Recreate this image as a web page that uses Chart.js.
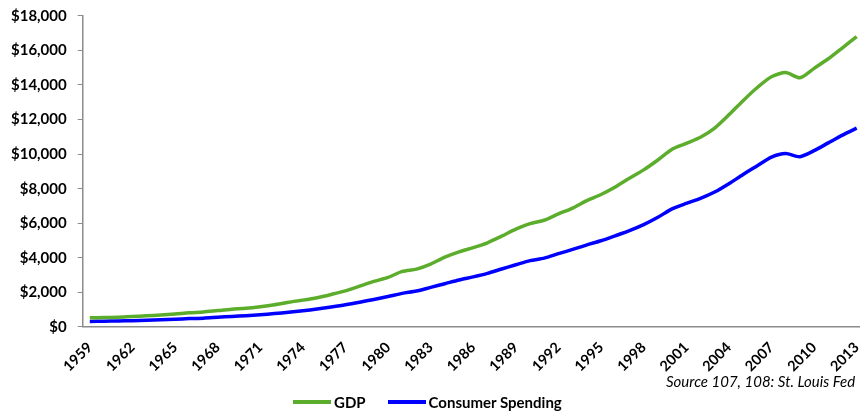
<!DOCTYPE html>
<html>
<head>
<meta charset="utf-8">
<script src="https://cdn.jsdelivr.net/npm/chart.js@4/dist/chart.umd.min.js"></script>
<style>
    html, body { margin: 0; padding: 0; background: #fff; overflow: hidden; }
    .wrap { position: relative; width: 881px; height: 412px; }
    .source {
        position: absolute; left: 666px; top: 372px;
        font-family: Lato, sans-serif; font-style: italic; font-size: 15px; color: #000;
        white-space: nowrap;
    }
    .legend {
        position: absolute; left: 293px; top: 393px;
        font-family: Lato, sans-serif; font-weight: bold; font-size: 15px; color: #000;
        white-space: nowrap; display: flex; align-items: center;
    }
    .legend .swatch { display: inline-block; width: 38px; height: 4px; margin-right: 3px; }
    .legend .item { display: flex; align-items: center; margin-right: 22px; }
</style>
</head>
<body>
<div class="wrap">
    <canvas id="gdpChart" width="881" height="412"></canvas>
    <div class="source">Source 107, 108: St. Louis Fed</div>
    <div class="legend" id="legend"></div>
</div>
<script>
// years shown on the category axis (every 3rd one gets a label)
const years = ['1959','1960','1961','1962','1963','1964','1965','1966','1967','1968',
    '1969','1970','1971','1972','1973','1974','1975','1976','1977','1978',
    '1979','1980','1981','1982','1983','1984','1985','1986','1987','1988',
    '1989','1990','1991','1992','1993','1994','1995','1996','1997','1998',
    '1999','2000','2001','2002','2003','2004','2005','2006','2007','2008',
    '2009','2010','2011','2012','2013'];

// billions of dollars
const gdp = [523, 543, 563, 605, 639, 686, 744, 815, 862, 943,
    1020, 1076, 1168, 1282, 1429, 1549, 1689, 1878, 2086, 2357,
    2632, 2863, 3211, 3345, 3638, 4041, 4347, 4590, 4870, 5253,
    5658, 5980, 6174, 6539, 6879, 7309, 7664, 8100, 8609, 9089,
    9661, 10285, 10622, 10978, 11511, 12275, 13094, 13856, 14478, 14719,
    14419, 14964, 15518, 16155, 16800];

const consumerSpending = [318, 331, 342, 363, 383, 411, 444, 481, 508, 558,
    605, 648, 702, 770, 852, 933, 1034, 1151, 1278, 1428,
    1591, 1756, 1940, 2076, 2289, 2501, 2718, 2897, 3097, 3350,
    3595, 3836, 3980, 4237, 4484, 4751, 4987, 5274, 5571, 5919,
    6343, 6830, 7149, 7439, 7804, 8285, 8819, 9323, 9826, 10030,
    9850, 10200, 10650, 11100, 11500];

const yMin = 0;
const yMax = 18000;
const yStep = 2000;

const font = 'Lato, sans-serif';
const axisColor = '#8c8c8c';

var ctx = document.getElementById('gdpChart').getContext('2d');
var gdpChart = new Chart(ctx, {
    type: 'line',
    data: {
        labels: years,
        datasets: [{
            label: 'GDP',
            data: gdp,
            borderColor: '#5cad2c',
            backgroundColor: '#5cad2c',
            borderWidth: 3.5,
            pointRadius: 0,
            tension: 0.25
        }, {
            label: 'Consumer Spending',
            data: consumerSpending,
            borderColor: '#0000ff',
            backgroundColor: '#0000ff',
            borderWidth: 3.5,
            pointRadius: 0,
            tension: 0.25
        }]
    },
    options: {
        responsive: false,
        animation: false,
        layout: {
            padding: { left: 0, right: 1, top: 0, bottom: 25 }
        },
        scales: {
            x: {
                offset: true,
                grid: { display: false, drawTicks: false },
                border: { display: true, color: axisColor, width: 1.5 },
                ticks: {
                    autoSkip: false,
                    minRotation: 45,
                    maxRotation: 45,
                    padding: 12,
                    color: '#000',
                    font: { family: font, size: 14.5, weight: 'bold' },
                    callback: function (val, idx) {
                        return idx % 3 === 0 ? years[idx] : '';
                    }
                }
            },
            y: {
                min: yMin,
                max: yMax,
                grid: {
                    drawOnChartArea: false,
                    drawTicks: true,
                    tickLength: 5,
                    color: axisColor
                },
                border: { display: true, color: axisColor, width: 1.5 },
                ticks: {
                    stepSize: yStep,
                    padding: 11,
                    color: '#000',
                    font: { family: font, size: 15, weight: 'bold', lineHeight: 0.65 },
                    callback: function (v) {
                        return '$' + v.toLocaleString('en-US');
                    }
                }
            }
        },
        plugins: {
            tooltip: { enabled: false },
            legend: { display: false }
        }
    }
});

// legend built from the chart's own datasets
const legendEl = document.getElementById('legend');
gdpChart.data.datasets.forEach(function (ds) {
    const item = document.createElement('span');
    item.className = 'item';
    const sw = document.createElement('span');
    sw.className = 'swatch';
    sw.style.background = ds.borderColor;
    item.appendChild(sw);
    item.appendChild(document.createTextNode(ds.label));
    legendEl.appendChild(item);
});
</script>
</body>
</html>
